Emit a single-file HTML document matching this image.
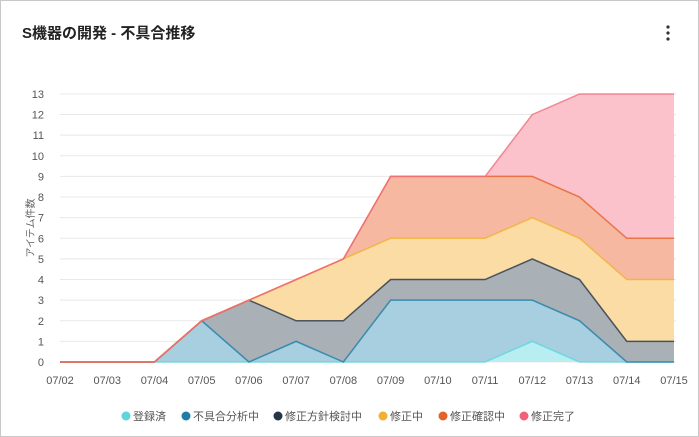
<!DOCTYPE html><html><head><meta charset="utf-8"><style>
body{margin:0;background:#fff;width:699px;height:437px;overflow:hidden;font-family:"Liberation Sans","Noto Sans CJK JP",sans-serif}
.card{position:absolute;left:0;top:0;width:697px;height:435px;border:1px solid #c8c8c8}
</style></head><body><div class="card"></div>
<svg id="s" width="699" height="437" style="position:absolute;left:0;top:0" font-family="Liberation Sans, Noto Sans CJK JP, sans-serif">
<text x="22" y="38" font-size="15" font-weight="bold" fill="#222">S機器の開発 - 不具合推移</text>
<circle cx="668" cy="27" r="1.6" fill="#333"/><circle cx="668" cy="33" r="1.6" fill="#333"/><circle cx="668" cy="39" r="1.6" fill="#333"/>
<text transform="translate(34,228) rotate(-90)" font-size="10" fill="#666" text-anchor="middle">アイテム件数</text>
<g id="g"></g>
<g font-size="11" fill="#555">
<circle cx="126" cy="416" r="4.5" fill="#5fd4dc"/><text x="133" y="420">登録済</text>
<circle cx="186" cy="416" r="4.5" fill="#1e7ca5"/><text x="193" y="420">不具合分析中</text>
<circle cx="278" cy="416" r="4.5" fill="#263646"/><text x="285" y="420">修正方針検討中</text>
<circle cx="383" cy="416" r="4.5" fill="#f0b030"/><text x="390" y="420">修正中</text>
<circle cx="443" cy="416" r="4.5" fill="#e5622a"/><text x="450" y="420">修正確認中</text>
<circle cx="524" cy="416" r="4.5" fill="#f06078"/><text x="531" y="420">修正完了</text>
</g>
</svg>
<script>
var g=document.getElementById('g'),h='';
function X(i){return 60+47.23*i}function Y(v){return 362-20.62*v}
for(var v=0;v<=13;v++){h+='<line x1="60" x2="676" y1="'+Y(v)+'" y2="'+Y(v)+'" stroke="#e8e8e8"/>';h+='<text x="44" y="'+(Y(v)+4)+'" font-size="11" fill="#555" text-anchor="end">'+v+'</text>';}
for(var i=0;i<14;i++){h+='<text x="'+X(i)+'" y="384" font-size="11" fill="#555" text-anchor="middle">07/'+(i+2<10?'0':'')+(i+2)+'</text>';}
var S=[
[0,0,0,0,0,0,0,0,0,0,1,0,0,0],
[0,0,0,2,0,1,0,3,3,3,3,2,0,0],
[0,0,0,2,3,2,2,4,4,4,5,4,1,1],
[0,0,0,2,3,4,5,6,6,6,7,6,4,4],
[0,0,0,2,3,4,5,9,9,9,9,8,6,6],
[0,0,0,2,3,4,5,9,9,9,12,13,13,13]];
var F=['#b8eef2','#a8cfe0','#a9b0b6','#fbdca4','#f6b8a0','#fbc2cb'],L=['#5fd4dc','#1e7ca5','#263646','#f0b030','#e5622a','#f07080'];
for(var k=5;k>=0;k--){var p='';for(var i=0;i<14;i++)p+=(i?'L':'M')+X(i)+','+Y(S[k][i]);
var lo=k?S[k-1]:null,q=p;for(var i=13;i>=0;i--)q+='L'+X(i)+','+Y(lo?lo[i]:0);
h+='<path d="'+q+'Z" fill="'+F[k]+'"/>';}
for(var k=0;k<6;k++){var p='';for(var i=0;i<14;i++)p+=(i?'L':'M')+X(i)+','+Y(S[k][i]);h+='<path d="'+p+'" fill="none" stroke="'+L[k]+'" stroke-width="1.5" opacity="0.8"/>';}
g.innerHTML=h;
</script></body></html>
